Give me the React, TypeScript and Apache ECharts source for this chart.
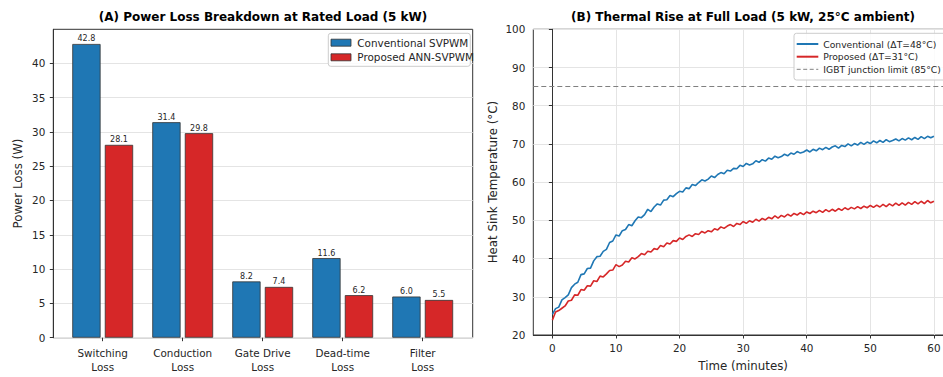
import React, { useEffect, useRef } from "react";
import * as echarts from "echarts";

const categories = ["Switching\nLoss", "Conduction\nLoss", "Gate Drive\nLoss", "Dead-time\nLoss", "Filter\nLoss"];
const conventionalLoss = [42.8, 31.4, 8.2, 11.6, 6.0];
const proposedLoss = [28.1, 29.8, 7.4, 6.2, 5.5];
const lossTicks = [0, 5, 10, 15, 20, 25, 30, 35, 40];
const timeTicks = [0, 10, 20, 30, 40, 50, 60];
const junctionLimit = 85;
const sampleStepMin = 0.5;

// Heat-sink temperature, one value every 0.5 min (0 … 60 min)
const conventionalTemp = [
  25.4, 26.9, 27.3, 29.2, 29.8, 30.5, 32.4, 33.3, 33.8, 35.8,
  36.0, 37.4, 37.5, 39.4, 40.5, 40.6, 41.9, 42.4, 44.2, 44.6,
  46.2, 45.9, 47.3, 47.6, 48.9, 48.6, 49.9, 50.9, 50.7, 51.5,
  52.9, 52.3, 53.5, 54.3, 54.0, 55.3, 55.4, 56.5, 56.2, 57.0,
  57.6, 57.4, 58.5, 58.3, 59.4, 59.1, 59.9, 60.6, 60.3, 60.8,
  61.6, 61.2, 62.0, 62.5, 62.2, 63.1, 62.9, 63.6, 63.5, 64.4,
  64.1, 64.9, 64.5, 64.8, 65.6, 65.2, 65.9, 65.5, 66.3, 66.0,
  66.8, 66.4, 66.7, 67.3, 66.9, 67.6, 67.3, 68.0, 67.6, 67.9,
  68.4, 67.9, 68.6, 68.2, 68.9, 68.5, 69.1, 68.6, 69.2, 69.5,
  68.9, 69.6, 69.3, 70.0, 69.5, 70.1, 69.7, 70.4, 69.9, 70.5,
  70.1, 70.8, 70.3, 70.9, 70.4, 71.1, 70.6, 70.9, 71.3, 70.8,
  71.4, 71.0, 71.6, 71.1, 71.7, 71.2, 71.9, 71.4, 72.0, 71.6, 72.0,
];

const proposedTemp = [
  23.9, 26.0, 26.4, 27.0, 27.6, 28.9, 29.1, 30.5, 30.4, 31.9,
  31.7, 32.9, 32.8, 34.2, 34.0, 35.4, 35.2, 36.0, 36.9, 37.0,
  38.4, 37.9, 38.3, 39.3, 39.1, 40.2, 39.9, 40.5, 41.3, 41.0,
  41.9, 41.7, 42.6, 42.4, 43.4, 43.1, 44.1, 43.8, 44.7, 44.5,
  45.4, 45.0, 45.8, 46.2, 45.8, 46.5, 46.3, 47.1, 46.7, 47.3,
  47.0, 47.8, 47.5, 48.3, 47.9, 48.5, 48.9, 48.4, 49.2, 48.9,
  49.7, 49.2, 49.9, 49.5, 50.3, 49.8, 50.5, 50.1, 50.8, 50.4,
  51.2, 50.6, 51.3, 50.9, 51.6, 51.1, 51.8, 51.4, 52.0, 51.5,
  52.2, 51.8, 52.4, 52.0, 52.6, 52.1, 52.8, 52.3, 52.9, 52.4,
  53.1, 52.6, 53.3, 52.8, 53.4, 53.0, 53.6, 53.1, 53.7, 53.3,
  53.9, 53.4, 54.0, 53.5, 54.2, 53.6, 54.3, 53.8, 54.5, 53.9,
  54.6, 54.0, 54.7, 54.2, 54.9, 54.3, 55.0, 54.4, 55.2, 54.6, 55.0,
];

const BLUE = "#1f77b4";
const RED = "#d62728";
const FONT = "DejaVu Sans";
const TXT = "#262626";
const AXIS = "#333333";
const GRIDC = "#e4e4e4";

export default function App() {
  const ref = useRef<HTMLDivElement>(null);
  useEffect(() => {
    document.body.style.margin = "0";
    if (!ref.current) return;
    const chart = echarts.init(ref.current, null, { renderer: "svg" });

    const convPts = conventionalTemp.map((v, i) => [i * sampleStepMin, v]);
    const propPts = proposedTemp.map((v, i) => [i * sampleStepMin, v]);

    const L = { left: 53.3, top: 29.3, width: 419.4, height: 308.4 };
    const R = { left: 533.3, top: 29.3, width: 419.7, height: 308.4 };
    const legendFontR = `9.2px "${FONT}"`;

    const option: any = {
      animation: false,
      backgroundColor: "#ffffff",
      textStyle: { fontFamily: FONT },
      grid: [
        { ...L, show: true, borderColor: AXIS, borderWidth: 1, backgroundColor: "transparent" },
        { left: 62.7, top: L.top, width: 400, height: L.height },
        { ...R, show: true, borderColor: AXIS, borderWidth: 1, backgroundColor: "transparent" },
      ],
      xAxis: [
        { gridIndex: 0, type: "value", min: 0, max: 1, show: false },
        {
          gridIndex: 1, type: "category", data: categories,
          axisLine: { show: false },
          axisTick: { show: true, alignWithLabel: true, length: 3.5, lineStyle: { color: AXIS } },
          axisLabel: { color: TXT, fontSize: 10.4, fontFamily: FONT, lineHeight: 14, margin: 8, interval: 0 },
          splitLine: { show: false },
        },
        {
          gridIndex: 2, type: "value", min: -3, max: 63, splitNumber: 6,
          axisLine: { show: true, lineStyle: { color: AXIS } },
          axisTick: { show: true, length: 3.5, customValues: timeTicks, lineStyle: { color: AXIS } },
          axisLabel: { color: TXT, fontSize: 10.4, fontFamily: FONT, margin: 8, customValues: timeTicks },
          splitLine: { show: true, lineStyle: { color: GRIDC, width: 1 } },
          name: "Time (minutes)", nameLocation: "middle", nameGap: 25,
          nameTextStyle: { color: TXT, fontSize: 11.8, fontFamily: FONT },
        },
      ],
      yAxis: [
        {
          gridIndex: 0, type: "value", min: 0, max: 44.94,
          axisLine: { show: true, lineStyle: { color: AXIS } },
          axisTick: { show: true, length: 3.5, customValues: lossTicks, lineStyle: { color: AXIS } },
          axisLabel: { color: TXT, fontSize: 10.4, fontFamily: FONT, margin: 8, customValues: lossTicks },
          splitLine: { show: true, lineStyle: { color: GRIDC, width: 1 } },
          name: "Power Loss (W)", nameLocation: "middle", nameGap: 29,
          nameTextStyle: { color: TXT, fontSize: 11.8, fontFamily: FONT },
        },
        { gridIndex: 1, type: "value", min: 0, max: 44.94, show: false },
        {
          gridIndex: 2, type: "value", min: 20, max: 100, interval: 10,
          axisLine: { show: true, lineStyle: { color: AXIS } },
          axisTick: { show: true, length: 3.5, lineStyle: { color: AXIS } },
          axisLabel: { color: TXT, fontSize: 10.4, fontFamily: FONT, margin: 8 },
          splitLine: { show: true, lineStyle: { color: GRIDC, width: 1 } },
          name: "Heat Sink Temperature (°C)", nameLocation: "middle", nameGap: 34,
          nameTextStyle: { color: TXT, fontSize: 11.8, fontFamily: FONT },
        },
      ],
      series: [
        {
          name: "Conventional SVPWM", type: "bar", xAxisIndex: 1, yAxisIndex: 1,
          data: conventionalLoss, barWidth: 28.3, barGap: "15%",
          itemStyle: { color: BLUE, borderColor: "#333", borderWidth: 0.8 },
          label: {
            show: true, position: "top", distance: 1, fontSize: 8, color: TXT, fontFamily: FONT,
            formatter: (p: any) => Number(p.value).toFixed(1),
          },
        },
        {
          name: "Proposed ANN-SVPWM", type: "bar", xAxisIndex: 1, yAxisIndex: 1,
          data: proposedLoss, barWidth: 28.3, barGap: "15%",
          itemStyle: { color: RED, borderColor: "#333", borderWidth: 0.8 },
          label: {
            show: true, position: "top", distance: 1, fontSize: 8, color: TXT, fontFamily: FONT,
            formatter: (p: any) => Number(p.value).toFixed(1),
          },
        },
        {
          name: "Conventional (ΔT=48°C)", type: "line", xAxisIndex: 2, yAxisIndex: 2,
          data: convPts, showSymbol: false, symbol: "none",
          lineStyle: { color: BLUE, width: 1.6 }, z: 3,
        },
        {
          name: "Proposed (ΔT=31°C)", type: "line", xAxisIndex: 2, yAxisIndex: 2,
          data: propPts, showSymbol: false, symbol: "none",
          lineStyle: { color: RED, width: 1.6 }, z: 3,
          markLine: {
            silent: true, symbol: ["none", "none"],
            label: { show: false },
            lineStyle: { color: "#808080", type: [5, 3], width: 1 },
            data: [{ yAxis: junctionLimit }],
          },
        },
      ],
      graphic: [
        {
          type: "text", x: 263, y: 17,
          style: { text: "(A) Power Loss Breakdown at Rated Load (5 kW)", font: `bold 12px "${FONT}"`, fill: "#000", align: "center", verticalAlign: "middle" },
        },
        {
          type: "text", x: 743, y: 17,
          style: { text: "(B) Thermal Rise at Full Load (5 kW, 25°C ambient)", font: `bold 12px "${FONT}"`, fill: "#000", align: "center", verticalAlign: "middle" },
        },
        // Left legend
        {
          type: "rect", shape: { x: 328.3, y: 33.3, width: 142, height: 33, r: 2.5 },
          style: { fill: "rgba(255,255,255,0.85)", stroke: "#cccccc", lineWidth: 1 }, z: 50,
        },
        { type: "rect", shape: { x: 331, y: 39.2, width: 20, height: 7 }, style: { fill: BLUE, stroke: "#333", lineWidth: 0.8 }, z: 51 },
        { type: "rect", shape: { x: 331, y: 53.8, width: 20, height: 7 }, style: { fill: RED, stroke: "#333", lineWidth: 0.8 }, z: 51 },
        { type: "text", x: 357.3, y: 42.7, style: { text: "Conventional SVPWM", font: `10.4px "${FONT}"`, fill: TXT, verticalAlign: "middle" }, z: 51 },
        { type: "text", x: 357.3, y: 57.3, style: { text: "Proposed ANN-SVPWM", font: `10.4px "${FONT}"`, fill: TXT, verticalAlign: "middle" }, z: 51 },
        // Right legend
        {
          type: "rect", shape: { x: 794, y: 33.3, width: 160, height: 46.7, r: 2.5 },
          style: { fill: "rgba(255,255,255,0.85)", stroke: "#cccccc", lineWidth: 1 }, z: 50,
        },
        { type: "line", shape: { x1: 796.7, y1: 44, x2: 818.3, y2: 44 }, style: { stroke: BLUE, lineWidth: 2 }, z: 51 },
        { type: "line", shape: { x1: 796.7, y1: 56.7, x2: 818.3, y2: 56.7 }, style: { stroke: RED, lineWidth: 2 }, z: 51 },
        { type: "line", shape: { x1: 796.7, y1: 69.3, x2: 818.3, y2: 69.3 }, style: { stroke: "#808080", lineWidth: 1, lineDash: [4, 2.5] }, z: 51 },
        { type: "text", x: 823.3, y: 44, style: { text: "Conventional (ΔT=48°C)", font: legendFontR, fill: TXT, verticalAlign: "middle" }, z: 51 },
        { type: "text", x: 823.3, y: 56.7, style: { text: "Proposed (ΔT=31°C)", font: legendFontR, fill: TXT, verticalAlign: "middle" }, z: 51 },
        { type: "text", x: 823.3, y: 69.3, style: { text: "IGBT junction limit (85°C)", font: legendFontR, fill: TXT, verticalAlign: "middle" }, z: 51 },
      ],
    };

    chart.setOption(option);
    return () => chart.dispose();
  }, []);

  return (
    <div style={{ width: 943, height: 377, position: "absolute", left: 0, top: 0, overflow: "hidden" }}>
      <div ref={ref} style={{ width: 960, height: 377 }} />
    </div>
  );
}
